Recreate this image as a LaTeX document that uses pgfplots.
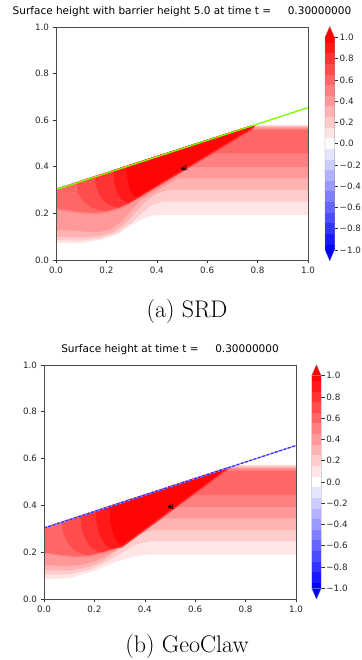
\documentclass[border=0pt]{standalone}
\usepackage{fontspec}
\usepackage{pgfplots}
\pgfplotsset{compat=1.18}
\newfontfamily\dv{DejaVu Sans}
\definecolor{r1}{rgb}{1,0.9,0.9}
\definecolor{r2}{rgb}{1,0.8,0.8}
\definecolor{r3}{rgb}{1,0.7,0.7}
\definecolor{r4}{rgb}{1,0.6,0.6}
\definecolor{r5}{rgb}{1,0.5,0.5}
\definecolor{r6}{rgb}{1,0.4,0.4}
\definecolor{r7}{rgb}{1,0.3,0.3}
\definecolor{r8}{rgb}{1,0.2,0.2}
\definecolor{r9}{rgb}{1,0.1,0.1}
\definecolor{r10}{rgb}{1,0.02,0.02}
\definecolor{u1}{rgb}{0.9,0.9,1}
\definecolor{u2}{rgb}{0.8,0.8,1}
\definecolor{u3}{rgb}{0.7,0.7,1}
\definecolor{u4}{rgb}{0.6,0.6,1}
\definecolor{u5}{rgb}{0.5,0.5,1}
\definecolor{u6}{rgb}{0.4,0.4,1}
\definecolor{u7}{rgb}{0.3,0.3,1}
\definecolor{u8}{rgb}{0.2,0.2,1}
\definecolor{u9}{rgb}{0.1,0.1,1}
\definecolor{u10}{rgb}{0.02,0.02,1}
\definecolor{lgreen}{RGB}{124,252,0}

\newcommand\cbarbands{%
\addplot[fill=blue,draw=none] coordinates {(0,-1)(1,-1)(0.5,-1.103)} -- cycle;
\addplot[fill=u10,draw=none] coordinates {(0,-1)(1,-1)(1,-0.95)(0,-0.95)} -- cycle;
\addplot[fill=u9,draw=none] coordinates {(0,-0.95)(1,-0.95)(1,-0.85)(0,-0.85)} -- cycle;
\addplot[fill=u8,draw=none] coordinates {(0,-0.85)(1,-0.85)(1,-0.75)(0,-0.75)} -- cycle;
\addplot[fill=u7,draw=none] coordinates {(0,-0.75)(1,-0.75)(1,-0.65)(0,-0.65)} -- cycle;
\addplot[fill=u6,draw=none] coordinates {(0,-0.65)(1,-0.65)(1,-0.55)(0,-0.55)} -- cycle;
\addplot[fill=u5,draw=none] coordinates {(0,-0.55)(1,-0.55)(1,-0.45)(0,-0.45)} -- cycle;
\addplot[fill=u4,draw=none] coordinates {(0,-0.45)(1,-0.45)(1,-0.35)(0,-0.35)} -- cycle;
\addplot[fill=u3,draw=none] coordinates {(0,-0.35)(1,-0.35)(1,-0.25)(0,-0.25)} -- cycle;
\addplot[fill=u2,draw=none] coordinates {(0,-0.25)(1,-0.25)(1,-0.15)(0,-0.15)} -- cycle;
\addplot[fill=u1,draw=none] coordinates {(0,-0.15)(1,-0.15)(1,-0.05)(0,-0.05)} -- cycle;
\addplot[fill=white,draw=none] coordinates {(0,-0.05)(1,-0.05)(1,0.05)(0,0.05)} -- cycle;
\addplot[fill=r1,draw=none] coordinates {(0,0.05)(1,0.05)(1,0.15)(0,0.15)} -- cycle;
\addplot[fill=r2,draw=none] coordinates {(0,0.15)(1,0.15)(1,0.25)(0,0.25)} -- cycle;
\addplot[fill=r3,draw=none] coordinates {(0,0.25)(1,0.25)(1,0.35)(0,0.35)} -- cycle;
\addplot[fill=r4,draw=none] coordinates {(0,0.35)(1,0.35)(1,0.45)(0,0.45)} -- cycle;
\addplot[fill=r5,draw=none] coordinates {(0,0.45)(1,0.45)(1,0.55)(0,0.55)} -- cycle;
\addplot[fill=r6,draw=none] coordinates {(0,0.55)(1,0.55)(1,0.65)(0,0.65)} -- cycle;
\addplot[fill=r7,draw=none] coordinates {(0,0.65)(1,0.65)(1,0.75)(0,0.75)} -- cycle;
\addplot[fill=r8,draw=none] coordinates {(0,0.75)(1,0.75)(1,0.85)(0,0.85)} -- cycle;
\addplot[fill=r9,draw=none] coordinates {(0,0.85)(1,0.85)(1,0.95)(0,0.95)} -- cycle;
\addplot[fill=r10,draw=none] coordinates {(0,0.95)(1,0.95)(1,1)(0,1)} -- cycle;
\addplot[fill=red,draw=none] coordinates {(0,1)(1,1)(0.5,1.103)} -- cycle;
\addplot[draw=black!45,line width=0.3pt] coordinates {(0,-1)(0,1)(0.5,1.103)(1,1)(1,-1)(0.5,-1.103)} -- cycle;
}

\pgfplotsset{
 mainax/.style={scale only axis, width=252pt, xmin=0,xmax=1,ymin=0,ymax=1,
  xtick={0,0.2,0.4,0.6,0.8,1}, ytick={0,0.2,0.4,0.6,0.8,1},
  xticklabels={0.0,0.2,0.4,0.6,0.8,1.0}, yticklabels={0.0,0.2,0.4,0.6,0.8,1.0},
  xtick pos=left, ytick pos=left, tick align=outside, major tick length=3.5pt,
  tick style={color=black!80,line width=0.6pt},
  axis line style={color=black!70,line width=0.7pt},
  tick label style={font=\dv\fontsize{8.75}{10}\selectfont, text=black!85},
  title style={font=\dv\fontsize{10.5}{12}\selectfont, at={(0.5,1)}, anchor=base, yshift=6pt},
  axis on top},
 cbax/.style={scale only axis, width=9.5pt, height=212.7pt, xmin=0,xmax=1,ymin=-1,ymax=1,
  clip=false, xtick=\empty, ytick={-1,-0.8,-0.6,-0.4,-0.2,0,0.2,0.4,0.6,0.8,1},
  yticklabels={−1.0,−0.8,−0.6,−0.4,−0.2,0.0,0.2,0.4,0.6,0.8,1.0},
  ytick pos=right, yticklabel pos=right, tick align=outside, major tick length=3.5pt,
  tick style={color=black!80,line width=0.6pt}, axis line style={draw=none},
  yticklabel style={font=\dv\fontsize{8.75}{10}\selectfont, text=black!85, anchor=west, inner sep=1.5pt}},
 starmark/.style={only marks, mark=text, text mark={\dv\fontsize{7}{7}\selectfont ★},
  nodes near coords={\dv\fontsize{6.5}{7}\selectfont 1},
  every node near coord/.style={anchor=south west, inner sep=0pt, xshift=0.3pt, yshift=-2pt}}
}

\begin{document}
\begin{tikzpicture}[x=1pt,y=1pt]
\path[use as bounding box] (0,0) rectangle (361,660);

% ---------------- top: SRD ----------------
\begin{axis}[mainax, at={(56pt,400pt)}, anchor=south west, height=233pt,
  title={Surface height with barrier height 5.0 at time t =\ \ \ \ \ 0.30000000}]
\addplot[fill=r1,draw=none] coordinates {(0,0.306)(0.783,0.580)(1,0.580)(1,0.193)(0.42,0.193)(0.38,0.19)(0.34,0.175)(0.30,0.15)(0.24,0.108)(0.175,0.086)(0.1,0.072)(0,0.072)} -- cycle;
\addplot[fill=r2,draw=none] coordinates {(0,0.306)(0.774,0.577)(1,0.577)(1,0.25)(0.42,0.25)(0.38,0.235)(0.34,0.20)(0.30,0.16)(0.24,0.115)(0.17,0.092)(0.1,0.083)(0,0.085)} -- cycle;
\addplot[fill=r3,draw=none] coordinates {(0,0.306)(0.763,0.573)(1,0.573)(1,0.30)(0.44,0.30)(0.40,0.285)(0.36,0.255)(0.32,0.21)(0.28,0.16)(0.23,0.12)(0.17,0.102)(0.1,0.097)(0,0.10)} -- cycle;
\addplot[fill=r4,draw=none] coordinates {(0,0.306)(0.751,0.569)(1,0.569)(1,0.35)(0.48,0.35)(0.46,0.336)(0.42,0.31)(0.38,0.285)(0.34,0.26)(0.30,0.215)(0.26,0.165)(0.21,0.128)(0.15,0.118)(0.08,0.125)(0,0.13)} -- cycle;
\addplot[fill=r5,draw=none] coordinates {(0,0.306)(0.737,0.564)(1,0.564)(1,0.40)(0.532,0.40)(0.32,0.262)(0.29,0.237)(0.25,0.217)(0.2,0.202)(0.15,0.196)(0.1,0.2)(0.05,0.208)(0,0.215)} -- cycle;
\addplot[fill=r6,draw=none] coordinates {(0,0.306)(0.72,0.558)(1,0.558)(1,0.458)(0.609,0.458)(0.32,0.27)(0.29,0.245)(0.25,0.225)(0.2,0.21)(0.15,0.203)(0.1,0.207)(0.05,0.215)(0,0.222)} -- cycle;
\addplot[fill=r7,draw=none] coordinates {(0.08,0.334)(0.0872,0.2876)(0.108,0.2522)(0.14,0.2258)(0.1792,0.2118)(0.20,0.21)(0.25,0.225)(0.29,0.245)(0.32,0.26)(0.78,0.559)(0.79,0.575)(0.78,0.579)} -- cycle;
\addplot[fill=r8,draw=none] coordinates {(0.155,0.360)(0.1607,0.3099)(0.1772,0.2711)(0.2025,0.2423)(0.2335,0.2270)(0.25,0.225)(0.29,0.245)(0.32,0.264)(0.78,0.563)(0.79,0.576)(0.78,0.579)} -- cycle;
\addplot[fill=r9,draw=none] coordinates {(0.226,0.385)(0.2299,0.3332)(0.241,0.2929)(0.258,0.263)(0.2789,0.247)(0.29,0.245)(0.32,0.267)(0.78,0.566)(0.785,0.577)(0.78,0.579)} -- cycle;
\addplot[fill=r10,draw=none] coordinates {(0.28,0.404)(0.2824,0.3542)(0.2894,0.3157)(0.30,0.2872)(0.3131,0.272)(0.32,0.27)(0.78,0.569)(0.785,0.578)(0.78,0.579)} -- cycle;
\addplot[lgreen, line width=1.3pt] coordinates {(0,0.302)(1,0.654)};
\addplot[starmark] coordinates {(0.505,0.392)};
\end{axis}
\begin{axis}[cbax, at={(325pt,410pt)}, anchor=south west]
\cbarbands
\end{axis}

% ---------------- bottom: GeoClaw ----------------
\begin{axis}[mainax, at={(44pt,61pt)}, anchor=south west, height=234pt,
  title={Surface height at time t =\ \ \ \ \ 0.30000000}]
\addplot[fill=r1,draw=none] coordinates {(0,0.306)(0.761,0.574)(1,0.574)(1,0.19)(0.42,0.19)(0.36,0.183)(0.3,0.165)(0.2,0.12)(0.1,0.088)(0,0.085)} -- cycle;
\addplot[fill=r2,draw=none] coordinates {(0,0.306)(0.75,0.570)(1,0.570)(1,0.247)(0.42,0.247)(0.37,0.235)(0.32,0.205)(0.26,0.165)(0.18,0.125)(0.1,0.105)(0,0.105)} -- cycle;
\addplot[fill=r3,draw=none] coordinates {(0,0.306)(0.739,0.566)(1,0.566)(1,0.295)(0.43,0.295)(0.38,0.28)(0.33,0.245)(0.28,0.2)(0.23,0.16)(0.17,0.135)(0.1,0.122)(0,0.124)} -- cycle;
\addplot[fill=r4,draw=none] coordinates {(0,0.306)(0.724,0.561)(1,0.561)(1,0.345)(0.48,0.345)(0.46,0.335)(0.41,0.30)(0.36,0.265)(0.31,0.222)(0.26,0.192)(0.21,0.165)(0.16,0.148)(0.1,0.14)(0,0.145)} -- cycle;
\addplot[fill=r5,draw=none] coordinates {(0,0.306)(0.707,0.555)(1,0.555)(1,0.394)(0.525,0.394)(0.31,0.224)(0.275,0.208)(0.23,0.193)(0.18,0.18)(0.12,0.177)(0.06,0.185)(0,0.195)} -- cycle;
\addplot[fill=r6,draw=none] coordinates {(0,0.306)(0.682,0.546)(1,0.546)(1,0.444)(0.581,0.444)(0.31,0.23)(0.275,0.215)(0.23,0.20)(0.18,0.187)(0.12,0.184)(0.06,0.19)(0,0.20)} -- cycle;
\addplot[fill=r7,draw=none] coordinates {(0.07,0.331)(0.0766,0.2795)(0.0957,0.2372)(0.125,0.2058)(0.1609,0.1891)(0.18,0.187)(0.23,0.20)(0.275,0.215)(0.31,0.22)(0.725,0.548)(0.735,0.562)(0.725,0.561)} -- cycle;
\addplot[fill=r8,draw=none] coordinates {(0.145,0.357)(0.1501,0.3013)(0.1649,0.255)(0.1875,0.2206)(0.2152,0.2023)(0.23,0.20)(0.275,0.215)(0.31,0.224)(0.725,0.552)(0.733,0.563)(0.725,0.561)} -- cycle;
\addplot[fill=r9,draw=none] coordinates {(0.205,0.378)(0.2092,0.3203)(0.2214,0.2722)(0.24,0.2364)(0.2628,0.2174)(0.275,0.215)(0.31,0.227)(0.725,0.555)(0.733,0.564)(0.725,0.561)} -- cycle;
\addplot[fill=r10,draw=none] coordinates {(0.26,0.3975)(0.263,0.3382)(0.2717,0.2888)(0.285,0.252)(0.3013,0.2325)(0.31,0.23)(0.725,0.558)(0.733,0.564)(0.725,0.561)} -- cycle;
\addplot[blue!35, line width=1.2pt] coordinates {(0,0.303)(1,0.656)};
\addplot[blue!80, line width=1.2pt, dash pattern=on 3pt off 1.5pt] coordinates {(0,0.303)(1,0.656)};
\addplot[starmark] coordinates {(0.5,0.392)};
\end{axis}
\begin{axis}[cbax, at={(311.7pt,71.7pt)}, anchor=south west]
\cbarbands
\end{axis}

\node[anchor=base] at (187,342) {\fontsize{24}{28}\selectfont (a) SRD};
\node[anchor=base] at (187,7) {\fontsize{24}{28}\selectfont (b) GeoClaw};
\end{tikzpicture}
\end{document}
